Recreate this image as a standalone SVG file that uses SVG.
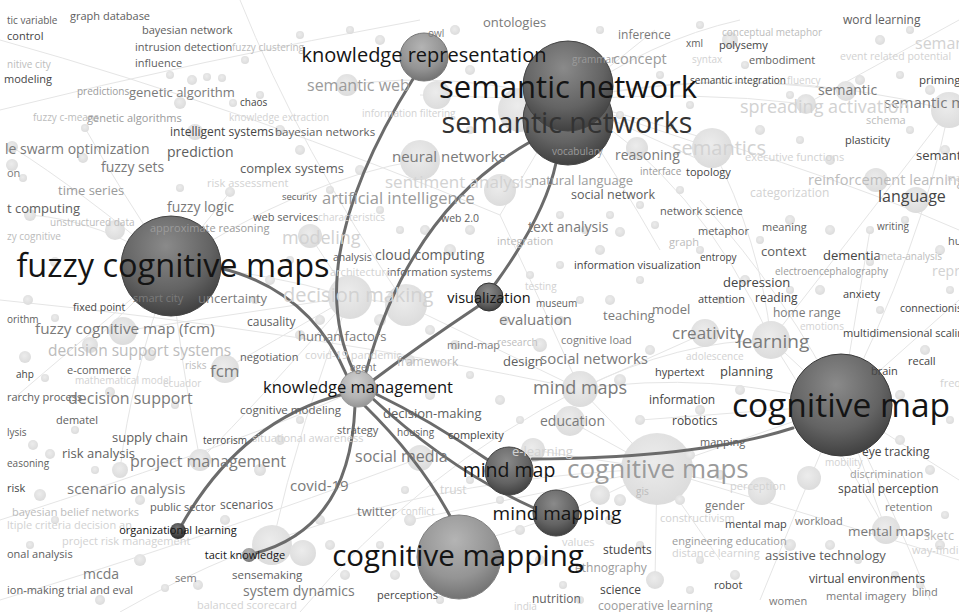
<svg xmlns="http://www.w3.org/2000/svg" width="959" height="612" viewBox="0 0 959 612">
<defs>
<style>
text{font-family:"Open Sans","Liberation Sans",Arial,sans-serif}
.e{fill:none;stroke:#e5e5e5;stroke-width:1}
.b{fill:url(#gBg)}
.link{fill:none;stroke:#6b6b6b;stroke-width:3;stroke-linecap:round}
.hl{fill:#141414;text-anchor:middle}
.c1{fill:#454545}.c2{fill:#5e5e5e}.c3{fill:#7a7a7a}.c4{fill:#9b9b9b}.c5{fill:#bcbcbc}.c6{fill:#d2d2d2}
</style>
<radialGradient id="gBg" cx="45%" cy="40%" r="60%">
<stop offset="0" stop-color="#ececec"/><stop offset="1" stop-color="#dcdcdc"/>
</radialGradient>
<radialGradient id="gDark" cx="45%" cy="30%" r="75%">
<stop offset="0" stop-color="#8a8a8a"/><stop offset="0.6" stop-color="#636363"/><stop offset="1" stop-color="#3a3a3a"/>
</radialGradient>
<radialGradient id="gMid" cx="45%" cy="30%" r="75%">
<stop offset="0" stop-color="#b4b4b4"/><stop offset="0.6" stop-color="#949494"/><stop offset="1" stop-color="#6c6c6c"/>
</radialGradient>
<radialGradient id="gLight" cx="45%" cy="30%" r="75%">
<stop offset="0" stop-color="#cfcfcf"/><stop offset="0.6" stop-color="#b3b3b3"/><stop offset="1" stop-color="#8f8f8f"/>
</radialGradient>
<radialGradient id="gSmall" cx="45%" cy="30%" r="75%">
<stop offset="0" stop-color="#777"/><stop offset="1" stop-color="#262626"/>
</radialGradient>
</defs>
<rect width="959" height="612" fill="#fff"/>

<!-- faint co-occurrence edges -->
<g id="background-edges">
<path class="e" d="M171,266 Q80,190 12,147"/>
<path class="e" d="M171,266 Q120,190 85,128"/>
<path class="e" d="M171,266 L230,192"/>
<path class="e" d="M171,266 Q70,350 12,400"/>
<path class="e" d="M171,266 Q130,380 120,470"/>
<path class="e" d="M171,266 Q260,270 350,297"/>
<path class="e" d="M171,266 Q180,360 200,460"/>
<path class="e" d="M171,266 Q100,220 30,215"/>
<path class="e" d="M171,266 L90,345"/>
<path class="e" d="M171,266 Q300,180 420,160"/>
<path class="e" d="M568,100 L700,160"/>
<path class="e" d="M568,100 Q690,90 806,104"/>
<path class="e" d="M568,100 Q700,70 846,91"/>
<path class="e" d="M568,100 L420,95"/>
<path class="e" d="M568,100 Q450,70 347,85"/>
<path class="e" d="M568,100 L655,30"/>
<path class="e" d="M568,100 Q650,40 740,20"/>
<path class="e" d="M568,100 Q760,60 949,110"/>
<path class="e" d="M568,100 Q620,180 660,250"/>
<path class="e" d="M568,100 L500,215"/>
<path class="e" d="M568,100 Q700,180 771,340"/>
<path class="e" d="M568,100 L712,148"/>
<path class="e" d="M841,405 L771,340"/>
<path class="e" d="M841,405 L657,469"/>
<path class="e" d="M841,405 L886,530"/>
<path class="e" d="M841,405 L959,300"/>
<path class="e" d="M841,405 L959,480"/>
<path class="e" d="M841,405 Q790,300 700,200"/>
<path class="e" d="M841,405 Q800,500 760,600"/>
<path class="e" d="M841,405 Q890,500 930,600"/>
<path class="e" d="M841,405 Q710,370 580,389"/>
<path class="e" d="M841,405 Q920,250 949,110"/>
<path class="e" d="M841,405 L870,230"/>
<path class="e" d="M841,405 L640,420"/>
<path class="e" d="M657,469 L580,389"/>
<path class="e" d="M657,469 L533,450"/>
<path class="e" d="M657,469 L762,491"/>
<path class="e" d="M657,469 L655,580"/>
<path class="e" d="M657,469 L720,560"/>
<path class="e" d="M657,469 L570,421"/>
<path class="e" d="M657,469 Q560,520 480,540"/>
<path class="e" d="M657,469 L410,520"/>
<path class="e" d="M350,297 L123,331"/>
<path class="e" d="M350,297 L225,369"/>
<path class="e" d="M350,297 Q260,400 200,460"/>
<path class="e" d="M350,297 L310,236"/>
<path class="e" d="M350,297 L406,305"/>
<path class="e" d="M350,297 Q300,420 272,545"/>
<path class="e" d="M580,389 L705,333"/>
<path class="e" d="M580,389 L406,305"/>
<path class="e" d="M580,389 Q540,300 500,215"/>
<path class="e" d="M580,389 Q680,340 771,340"/>
<path class="e" d="M771,340 Q760,240 712,148"/>
<path class="e" d="M771,340 Q880,200 949,110"/>
<path class="e" d="M771,340 Q840,450 886,530"/>
<path class="e" d="M0,40 Q250,110 500,215"/>
<path class="e" d="M0,600 Q200,540 420,458"/>
<path class="e" d="M959,560 L657,469"/>
<path class="e" d="M959,20 L806,104"/>
<path class="e" d="M240,0 Q300,150 406,305"/>
<path class="e" d="M0,300 Q300,330 580,389"/>
<path class="e" d="M120,612 Q350,480 657,469"/>
<path class="e" d="M0,520 Q250,440 358,389"/>
<path class="e" d="M959,230 Q800,160 568,100"/>
<path class="e" d="M300,612 Q420,470 580,389"/>
<path class="e" d="M0,110 Q200,60 420,20"/>
</g>

<!-- faint term circles -->
<g id="background-terms">
<circle class="b" cx="657" cy="469" r="36"/><circle class="b" cx="771" cy="340" r="19"/>
<circle class="b" cx="705" cy="333" r="14"/><circle class="b" cx="580" cy="389" r="18"/>
<circle class="b" cx="350" cy="297" r="22"/><circle class="b" cx="406" cy="305" r="21"/>
<circle class="b" cx="310" cy="236" r="12"/><circle class="b" cx="712" cy="148" r="20"/>
<circle class="b" cx="949" cy="110" r="18"/><circle class="b" cx="806" cy="104" r="10"/>
<circle class="b" cx="846" cy="91" r="10"/><circle class="b" cx="876" cy="180" r="12"/>
<circle class="b" cx="916" cy="200" r="13"/><circle class="b" cx="123" cy="331" r="14"/>
<circle class="b" cx="225" cy="369" r="14"/><circle class="b" cx="200" cy="460" r="11"/>
<circle class="b" cx="272" cy="545" r="20"/><circle class="b" cx="303" cy="553" r="13"/>
<circle class="b" cx="420" cy="458" r="13"/><circle class="b" cx="570" cy="421" r="15"/>
<circle class="b" cx="533" cy="450" r="12"/><circle class="b" cx="886" cy="530" r="14"/>
<circle class="b" cx="762" cy="491" r="14"/><circle class="b" cx="809" cy="478" r="12"/>
<circle class="b" cx="420" cy="160" r="20"/><circle class="b" cx="347" cy="85" r="11"/>
<circle class="b" cx="437" cy="95" r="14"/><circle class="b" cx="500" cy="190" r="16"/>
<circle class="b" cx="520" cy="110" r="22"/><circle class="b" cx="637" cy="148" r="11"/>
<circle class="b" cx="730" cy="40" r="8"/><circle class="b" cx="600" cy="495" r="10"/>
<circle class="b" cx="655" cy="580" r="9"/><circle class="b" cx="115" cy="230" r="10"/>
<circle class="b" cx="195" cy="132" r="8"/><circle class="b" cx="90" cy="345" r="8"/>
<circle class="b" cx="120" cy="470" r="8"/><circle class="b" cx="540" cy="345" r="7"/>
<circle class="b" cx="192" cy="80" r="5"/><circle class="b" cx="170" cy="75" r="4"/><circle class="b" cx="207" cy="77" r="4"/>
<circle class="b" cx="222" cy="78" r="4"/><circle class="b" cx="85" cy="128" r="4"/><circle class="b" cx="180" cy="103" r="6"/>
<circle class="b" cx="233" cy="103" r="4"/><circle class="b" cx="12" cy="147" r="6"/><circle class="b" cx="83" cy="158" r="5"/>
<circle class="b" cx="12" cy="165" r="6"/><circle class="b" cx="23" cy="178" r="4"/><circle class="b" cx="180" cy="188" r="4"/>
<circle class="b" cx="230" cy="192" r="5"/><circle class="b" cx="30" cy="215" r="6"/><circle class="b" cx="55" cy="262" r="5"/>
<circle class="b" cx="28" cy="300" r="5"/><circle class="b" cx="55" cy="318" r="4"/><circle class="b" cx="25" cy="357" r="6"/>
<circle class="b" cx="45" cy="378" r="4"/><circle class="b" cx="110" cy="392" r="5"/><circle class="b" cx="150" cy="355" r="6"/>
<circle class="b" cx="175" cy="405" r="4"/><circle class="b" cx="33" cy="445" r="5"/><circle class="b" cx="50" cy="454" r="5"/>
<circle class="b" cx="75" cy="430" r="4"/><circle class="b" cx="95" cy="470" r="4"/><circle class="b" cx="40" cy="495" r="6"/>
<circle class="b" cx="140" cy="500" r="5"/><circle class="b" cx="55" cy="520" r="4"/><circle class="b" cx="30" cy="545" r="4"/>
<circle class="b" cx="140" cy="560" r="6"/><circle class="b" cx="100" cy="600" r="5"/><circle class="b" cx="165" cy="588" r="4"/>
<circle class="b" cx="198" cy="585" r="5"/><circle class="b" cx="225" cy="520" r="5"/><circle class="b" cx="260" cy="470" r="6"/>
<circle class="b" cx="280" cy="440" r="5"/><circle class="b" cx="300" cy="420" r="4"/><circle class="b" cx="320" cy="520" r="5"/>
<circle class="b" cx="330" cy="545" r="5"/><circle class="b" cx="345" cy="575" r="5"/><circle class="b" cx="380" cy="545" r="4"/>
<circle class="b" cx="395" cy="575" r="5"/><circle class="b" cx="405" cy="490" r="4"/><circle class="b" cx="410" cy="520" r="6"/>
<circle class="b" cx="440" cy="600" r="4"/><circle class="b" cx="470" cy="480" r="4"/><circle class="b" cx="500" cy="500" r="4"/>
<circle class="b" cx="520" cy="530" r="5"/><circle class="b" cx="540" cy="560" r="5"/><circle class="b" cx="563" cy="585" r="4"/>
<circle class="b" cx="580" cy="600" r="4"/><circle class="b" cx="610" cy="520" r="5"/><circle class="b" cx="620" cy="500" r="6"/>
<circle class="b" cx="640" cy="545" r="4"/><circle class="b" cx="680" cy="500" r="5"/><circle class="b" cx="700" cy="560" r="4"/>
<circle class="b" cx="690" cy="590" r="4"/><circle class="b" cx="735" cy="575" r="5"/><circle class="b" cx="790" cy="545" r="6"/>
<circle class="b" cx="830" cy="545" r="5"/><circle class="b" cx="858" cy="560" r="4"/><circle class="b" cx="895" cy="575" r="4"/>
<circle class="b" cx="940" cy="545" r="5"/><circle class="b" cx="920" cy="585" r="4"/><circle class="b" cx="945" cy="515" r="4"/>
<circle class="b" cx="930" cy="470" r="5"/><circle class="b" cx="900" cy="440" r="5"/><circle class="b" cx="950" cy="420" r="4"/>
<circle class="b" cx="900" cy="395" r="5"/><circle class="b" cx="925" cy="350" r="5"/><circle class="b" cx="950" cy="290" r="4"/>
<circle class="b" cx="880" cy="310" r="4"/><circle class="b" cx="940" cy="250" r="5"/><circle class="b" cx="905" cy="220" r="4"/>
<circle class="b" cx="870" cy="230" r="4"/><circle class="b" cx="830" cy="230" r="5"/><circle class="b" cx="790" cy="220" r="5"/>
<circle class="b" cx="760" cy="240" r="4"/><circle class="b" cx="745" cy="280" r="5"/><circle class="b" cx="790" cy="290" r="4"/>
<circle class="b" cx="820" cy="290" r="5"/><circle class="b" cx="870" cy="262" r="4"/><circle class="b" cx="720" cy="300" r="4"/>
<circle class="b" cx="740" cy="390" r="5"/><circle class="b" cx="700" cy="410" r="5"/><circle class="b" cx="690" cy="455" r="5"/>
<circle class="b" cx="720" cy="475" r="5"/><circle class="b" cx="640" cy="420" r="5"/><circle class="b" cx="620" cy="380" r="6"/>
<circle class="b" cx="650" cy="350" r="5"/><circle class="b" cx="610" cy="300" r="5"/><circle class="b" cx="640" cy="280" r="4"/>
<circle class="b" cx="600" cy="250" r="5"/><circle class="b" cx="560" cy="265" r="4"/><circle class="b" cx="530" cy="275" r="4"/>
<circle class="b" cx="620" cy="232" r="5"/><circle class="b" cx="655" cy="225" r="4"/><circle class="b" cx="700" cy="250" r="4"/>
<circle class="b" cx="680" cy="190" r="4"/><circle class="b" cx="640" cy="205" r="4"/><circle class="b" cx="610" cy="215" r="4"/>
<circle class="b" cx="585" cy="230" r="4"/><circle class="b" cx="560" cy="215" r="4"/><circle class="b" cx="470" cy="230" r="5"/>
<circle class="b" cx="450" cy="250" r="6"/><circle class="b" cx="425" cy="230" r="5"/><circle class="b" cx="400" cy="230" r="4"/>
<circle class="b" cx="380" cy="210" r="4"/><circle class="b" cx="360" cy="170" r="5"/><circle class="b" cx="330" cy="190" r="4"/>
<circle class="b" cx="300" cy="150" r="5"/><circle class="b" cx="280" cy="130" r="5"/><circle class="b" cx="260" cy="95" r="4"/>
<circle class="b" cx="245" cy="60" r="4"/><circle class="b" cx="300" cy="35" r="4"/><circle class="b" cx="350" cy="30" r="4"/>
<circle class="b" cx="380" cy="40" r="5"/><circle class="b" cx="455" cy="30" r="5"/><circle class="b" cx="470" cy="70" r="5"/>
<circle class="b" cx="590" cy="60" r="5"/><circle class="b" cx="600" cy="30" r="4"/><circle class="b" cx="660" cy="75" r="4"/>
<circle class="b" cx="700" cy="25" r="4"/><circle class="b" cx="745" cy="65" r="4"/><circle class="b" cx="790" cy="95" r="4"/>
<circle class="b" cx="760" cy="130" r="5"/><circle class="b" cx="800" cy="140" r="4"/><circle class="b" cx="830" cy="160" r="5"/>
<circle class="b" cx="860" cy="80" r="5"/><circle class="b" cx="900" cy="75" r="4"/><circle class="b" cx="930" cy="90" r="5"/>
<circle class="b" cx="945" cy="150" r="5"/><circle class="b" cx="910" cy="130" r="4"/><circle class="b" cx="880" cy="40" r="5"/>
<circle class="b" cx="910" cy="30" r="4"/><circle class="b" cx="690" cy="105" r="4"/><circle class="b" cx="670" cy="125" r="4"/>
<circle class="b" cx="620" cy="115" r="4"/><circle class="b" cx="470" cy="130" r="4"/><circle class="b" cx="290" cy="260" r="4"/>
<circle class="b" cx="270" cy="280" r="5"/><circle class="b" cx="255" cy="300" r="4"/><circle class="b" cx="300" cy="335" r="5"/>
<circle class="b" cx="320" cy="320" r="5"/><circle class="b" cx="380" cy="320" r="6"/><circle class="b" cx="430" cy="330" r="5"/>
<circle class="b" cx="455" cy="345" r="5"/><circle class="b" cx="470" cy="375" r="4"/><circle class="b" cx="430" cy="395" r="5"/>
<circle class="b" cx="500" cy="400" r="5"/><circle class="b" cx="520" cy="420" r="4"/><circle class="b" cx="560" cy="320" r="4"/>
<circle class="b" cx="580" cy="300" r="4"/><circle class="b" cx="505" cy="320" r="4"/><circle class="b" cx="410" cy="360" r="5"/>
</g>

<!-- highlighted links of knowledge management -->
<g id="connectors">
<path class="link" d="M413,79 Q300,260 354,372"/>
<path class="link" d="M530,142 Q410,210 366,372"/>
<path class="link" d="M556,163 Q545,215 495,284"/>
<path class="link" d="M480,305 Q420,345 372,381"/>
<path class="link" d="M220,268 Q310,290 347,376"/>
<path class="link" d="M344,394 Q240,420 180,528"/>
<path class="link" d="M355,406 Q350,530 252,554"/>
<path class="link" d="M364,405 Q420,460 450,516"/>
<path class="link" d="M372,398 Q450,470 534,508"/>
<path class="link" d="M374,393 Q430,420 488,460"/>
<path class="link" d="M793,428 Q700,458 532,459"/>
</g>

<!-- highlighted nodes -->
<g id="node-knowledge-representation"><circle cx="424" cy="57" r="24" fill="url(#gMid)" stroke="#777"/></g>
<g id="node-semantic-networks"><circle cx="568" cy="120" r="45" fill="url(#gDark)" stroke="#444"/></g>
<g id="node-semantic-network"><circle cx="568" cy="86" r="45" fill="url(#gDark)" stroke="#444"/></g>
<g id="node-fuzzy-cognitive-maps"><circle cx="171" cy="266" r="50" fill="url(#gDark)" stroke="#444"/></g>
<g id="node-cognitive-map"><circle cx="841" cy="405" r="51" fill="url(#gDark)" stroke="#3a3a3a"/></g>
<g id="node-visualization"><circle cx="489" cy="297" r="14" fill="url(#gDark)" stroke="#333"/></g>
<g id="node-knowledge-management"><circle cx="358" cy="389" r="18" fill="url(#gLight)" stroke="#999"/></g>
<g id="node-mind-map"><circle cx="509" cy="471" r="24" fill="url(#gDark)" stroke="#444"/></g>
<g id="node-mind-mapping"><circle cx="556" cy="513" r="23" fill="url(#gDark)" stroke="#444"/></g>
<g id="node-cognitive-mapping"><circle cx="459" cy="557" r="42" fill="url(#gMid)" stroke="#808080"/></g>
<g id="node-organizational-learning"><circle cx="178" cy="531" r="8" fill="url(#gSmall)"/></g>
<g id="node-tacit-knowledge"><circle cx="249" cy="555" r="7" fill="url(#gMid)"/></g>

<!-- term labels -->
<g id="term-labels">
<text x="7" y="24" font-size="10" class="c2">tic variable</text>
<text x="70" y="20" font-size="11" class="c2">graph database</text>
<text x="7" y="40" font-size="11" class="c1">control</text>
<text x="142" y="34" font-size="11" class="c2">bayesian network</text>
<text x="135" y="51" font-size="11" class="c2">intrusion detection</text>
<text x="232" y="51" font-size="10" class="c5">fuzzy clustering</text>
<text x="7" y="68" font-size="10" class="c5">nitive city</text>
<text x="135" y="67" font-size="11" class="c2">influence</text>
<text x="4" y="83" font-size="11" class="c1">modeling</text>
<text x="77" y="95" font-size="10" class="c4">predictions</text>
<text x="129" y="97" font-size="13" class="c3">genetic algorithm</text>
<text x="33" y="121" font-size="10" class="c5">fuzzy c-means</text>
<text x="87" y="122" font-size="11" class="c4">genetic algorithms</text>
<text x="170" y="136" font-size="12" class="c1">intelligent systems</text>
<text x="275" y="136" font-size="11.5" class="c2">bayesian networks</text>
<text x="240" y="106" font-size="10" class="c1">chaos</text>
<text x="229" y="121" font-size="10" class="c6">knowledge extraction</text>
<text x="5" y="154" font-size="14" class="c3">le swarm optimization</text>
<text x="167" y="157" font-size="14" class="c2">prediction</text>
<text x="101" y="172" font-size="14" class="c3">fuzzy sets</text>
<text x="7" y="177" font-size="11" class="c3">on</text>
<text x="58" y="195" font-size="13" class="c4">time series</text>
<text x="7" y="213" font-size="13" class="c2">t computing</text>
<text x="167" y="212" font-size="14" class="c3">fuzzy logic</text>
<text x="50" y="226" font-size="10" class="c5">unstructured data</text>
<text x="7" y="240" font-size="10" class="c5">zy cognitive</text>
<text x="307" y="91" font-size="16" class="c4">semantic web</text>
<text x="362" y="117" font-size="10" class="c6">information filtering</text>
<text x="428" y="37" font-size="10" class="c3">owl</text>
<text x="240" y="173" font-size="13" class="c2">complex systems</text>
<text x="207" y="187" font-size="11" class="c6">risk assessment</text>
<text x="282" y="200" font-size="9.5" class="c2">security</text>
<text x="322" y="204" font-size="16.5" class="c4">artificial intelligence</text>
<text x="392" y="162" font-size="15" class="c3">neural networks</text>
<text x="385" y="188" font-size="17" class="c6">sentiment analysis</text>
<text x="483" y="27" font-size="13" class="c3">ontologies</text>
<text x="618" y="39" font-size="12" class="c3">inference</text>
<text x="686" y="47" font-size="10" class="c2">xml</text>
<text x="572" y="63" font-size="10" class="c4">grammar</text>
<text x="613" y="64" font-size="14.5" class="c4">concept</text>
<text x="692" y="63" font-size="10" class="c6">syntax</text>
<text x="722" y="36" font-size="10" class="c5">conceptual metaphor</text>
<text x="719" y="49" font-size="11" class="c1">polysemy</text>
<text x="749" y="64" font-size="11" class="c2">embodiment</text>
<text x="690" y="84" font-size="10" class="c1">semantic integration</text>
<text x="787" y="84" font-size="10" class="c6">fluency</text>
<text x="843" y="24" font-size="12" class="c2">word learning</text>
<text x="915" y="49" font-size="16" class="c6">seman</text>
<text x="840" y="60" font-size="10.5" class="c6">event related potential</text>
<text x="818" y="95" font-size="14" class="c3">semantic</text>
<text x="919" y="84" font-size="11.5" class="c1">priming</text>
<text x="884" y="108" font-size="15" class="c3">semantic m</text>
<text x="740" y="113" font-size="18" class="c6">spreading activation</text>
<text x="866" y="124" font-size="11" class="c5">schema</text>
<text x="845" y="144" font-size="11" class="c1">plasticity</text>
<text x="916" y="160" font-size="13" class="c1">semanti</text>
<text x="672" y="155" font-size="20" class="c6">semantics</text>
<text x="745" y="161" font-size="11" class="c6">executive functions</text>
<text x="615" y="160" font-size="14" class="c3">reasoning</text>
<text x="552" y="155" font-size="10" class="c4">vocabulary</text>
<text x="640" y="175" font-size="10" class="c4">interface</text>
<text x="686" y="176" font-size="11" class="c1">topology</text>
<text x="531" y="185" font-size="13" class="c4">natural language</text>
<text x="571" y="199" font-size="12.5" class="c2">social network</text>
<text x="808" y="185" font-size="14.6" class="c5">reinforcement learning</text>
<text x="945" y="181" font-size="9" class="c6">imag</text>
<text x="750" y="197" font-size="12" class="c6">categorization</text>
<text x="878" y="202" font-size="16" class="c1">language</text>
<text x="660" y="215" font-size="11" class="c2">network science</text>
<text x="698" y="235" font-size="11" class="c2">metaphor</text>
<text x="762" y="231" font-size="11" class="c2">meaning</text>
<text x="877" y="230" font-size="10" class="c2">writing</text>
<text x="948" y="245" font-size="11" class="c2">hu</text>
<text x="669" y="246" font-size="11" class="c5">graph</text>
<text x="700" y="261" font-size="10" class="c1">entropy</text>
<text x="761" y="256" font-size="13" class="c2">context</text>
<text x="823" y="260" font-size="13" class="c1">dementia</text>
<text x="878" y="260" font-size="10" class="c5">meta-analysis</text>
<text x="932" y="276" font-size="14" class="c6">repr</text>
<text x="775" y="275" font-size="10" class="c4">electroencephalography</text>
<text x="723" y="287" font-size="13" class="c1">depression</text>
<text x="698" y="303" font-size="11" class="c1">attention</text>
<text x="755" y="302" font-size="12" class="c1">reading</text>
<text x="843" y="298" font-size="11" class="c1">anxiety</text>
<text x="900" y="312" font-size="10.5" class="c1">connectionis</text>
<text x="773" y="317" font-size="12" class="c3">home range</text>
<text x="800" y="330" font-size="10" class="c6">emotions</text>
<text x="843" y="337" font-size="11" class="c1">multidimensional scalin</text>
<text x="672" y="339" font-size="17" class="c3">creativity</text>
<text x="737" y="348" font-size="19" class="c3">learning</text>
<text x="686" y="360" font-size="10" class="c6">adolescence</text>
<text x="720" y="376" font-size="13" class="c1">planning</text>
<text x="908" y="365" font-size="11" class="c1">recall</text>
<text x="871" y="375" font-size="11" class="c1">brain</text>
<text x="940" y="387" font-size="11" class="c6">freq</text>
<text x="655" y="376" font-size="11" class="c1">hypertext</text>
<text x="649" y="404" font-size="12" class="c1">information</text>
<text x="533" y="394" font-size="18" class="c3">mind maps</text>
<text x="540" y="426" font-size="14" class="c3">education</text>
<text x="672" y="425" font-size="12" class="c1">robotics</text>
<text x="700" y="446" font-size="11" class="c2">mapping</text>
<text x="567" y="478" font-size="26" class="c4">cognitive maps</text>
<text x="636" y="495" font-size="10" class="c5">gis</text>
<text x="862" y="456" font-size="12" class="c1">eye tracking</text>
<text x="825" y="466" font-size="10" class="c6">mobility</text>
<text x="730" y="490" font-size="11" class="c6">perception</text>
<text x="850" y="478" font-size="11" class="c4">discrimination</text>
<text x="838" y="493" font-size="12" class="c1">spatial perception</text>
<text x="885" y="511" font-size="11" class="c3">retention</text>
<text x="705" y="510" font-size="12" class="c3">gender</text>
<text x="660" y="522" font-size="11" class="c6">constructivism</text>
<text x="725" y="528" font-size="11" class="c1">mental map</text>
<text x="795" y="525" font-size="11" class="c3">workload</text>
<text x="848" y="536" font-size="13.5" class="c3">mental maps</text>
<text x="924" y="540" font-size="12.5" class="c5">sketc</text>
<text x="912" y="554" font-size="11" class="c6">way-findi</text>
<text x="672" y="545" font-size="11" class="c4">engineering education</text>
<text x="672" y="557" font-size="11" class="c6">distance learning</text>
<text x="765" y="560" font-size="13" class="c2">assistive technology</text>
<text x="809" y="583" font-size="12" class="c1">virtual environments</text>
<text x="714" y="589" font-size="11" class="c1">robot</text>
<text x="769" y="605" font-size="11" class="c3">women</text>
<text x="826" y="600" font-size="11" class="c3">mental imagery</text>
<text x="912" y="596" font-size="11" class="c3">blind</text>
<text x="603" y="554" font-size="12" class="c1">students</text>
<text x="562" y="546" font-size="11" class="c6">values</text>
<text x="575" y="572" font-size="12" class="c4">ethnography</text>
<text x="600" y="594" font-size="12" class="c1">science</text>
<text x="532" y="603" font-size="12" class="c2">nutrition</text>
<text x="514" y="610" font-size="10" class="c6">india</text>
<text x="598" y="610" font-size="12" class="c4">cooperative learning</text>
<text x="377" y="599" font-size="11" class="c1">perceptions</text>
<text x="243" y="596" font-size="14" class="c3">system dynamics</text>
<text x="197" y="609" font-size="11" class="c6">balanced scorecard</text>
<text x="232" y="579" font-size="11.5" class="c2">sensemaking</text>
<text x="175" y="582" font-size="11" class="c3">sem</text>
<text x="83" y="579" font-size="14" class="c3">mcda</text>
<text x="7" y="594" font-size="11" class="c2">ion-making trial and eval</text>
<text x="7" y="558" font-size="11" class="c2">onal analysis</text>
<text x="62" y="545" font-size="11" class="c6">project risk management</text>
<text x="7" y="529" font-size="11" class="c6">ltiple criteria decision an</text>
<text x="12" y="516" font-size="11" class="c5">bayesian belief networks</text>
<text x="150" y="511" font-size="11" class="c2">public sector</text>
<text x="220" y="509" font-size="12" class="c2">scenarios</text>
<text x="357" y="516" font-size="13" class="c3">twitter</text>
<text x="401" y="515" font-size="10" class="c6">conflict</text>
<text x="290" y="491" font-size="15" class="c3">covid-19</text>
<text x="67" y="494" font-size="15" class="c3">scenario analysis</text>
<text x="7" y="492" font-size="11" class="c1">risk</text>
<text x="130" y="467" font-size="16" class="c3">project management</text>
<text x="7" y="467" font-size="10" class="c2">easoning</text>
<text x="62" y="458" font-size="13" class="c2">risk analysis</text>
<text x="112" y="442" font-size="13" class="c2">supply chain</text>
<text x="203" y="444" font-size="10" class="c1">terrorism</text>
<text x="7" y="436" font-size="10" class="c2">lysis</text>
<text x="56" y="424" font-size="11" class="c2">dematel</text>
<text x="240" y="414" font-size="11.5" class="c2">cognitive modeling</text>
<text x="252" y="442" font-size="11" class="c6">situational awareness</text>
<text x="337" y="434" font-size="11" class="c2">strategy</text>
<text x="397" y="436" font-size="10" class="c2">housing</text>
<text x="448" y="439" font-size="11" class="c1">complexity</text>
<text x="383" y="418" font-size="13" class="c2">decision-making</text>
<text x="355" y="462" font-size="16" class="c3">social media</text>
<text x="440" y="494" font-size="12" class="c6">trust</text>
<text x="512" y="456" font-size="13" class="c6">e-learning</text>
<text x="16" y="378" font-size="10" class="c1">ahp</text>
<text x="67" y="374" font-size="11" class="c2">e-commerce</text>
<text x="185" y="369" font-size="10" class="c5">risks</text>
<text x="210" y="377" font-size="17" class="c3">fcm</text>
<text x="163" y="387" font-size="10" class="c6">ecuador</text>
<text x="75" y="384" font-size="10" class="c6">mathematical model</text>
<text x="7" y="401" font-size="11" class="c2">rarchy process</text>
<text x="68" y="404" font-size="16" class="c3">decision support</text>
<text x="48" y="356" font-size="15.5" class="c5">decision support systems</text>
<text x="35" y="334" font-size="15.3" class="c3">fuzzy cognitive map (fcm)</text>
<text x="73" y="311" font-size="10.5" class="c1">fixed point</text>
<text x="7" y="323" font-size="10" class="c2">orithm</text>
<text x="133" y="302" font-size="11" class="c3">smart city</text>
<text x="198" y="303" font-size="13" class="c3">uncertainty</text>
<text x="283" y="302" font-size="20" class="c6">decision making</text>
<text x="247" y="326" font-size="12" class="c2">causality</text>
<text x="298" y="341" font-size="13" class="c3">human factors</text>
<text x="240" y="361" font-size="11" class="c2">negotiation</text>
<text x="305" y="359" font-size="11" class="c6">covid-19 pandemic</text>
<text x="350" y="371" font-size="10" class="c3">agent</text>
<text x="397" y="366" font-size="12" class="c5">framework</text>
<text x="447" y="349" font-size="11" class="c3">mind-map</text>
<text x="497" y="346" font-size="10" class="c5">research</text>
<text x="503" y="366" font-size="13" class="c2">design</text>
<text x="540" y="364" font-size="15" class="c3">social networks</text>
<text x="499" y="325" font-size="15" class="c3">evaluation</text>
<text x="561" y="344" font-size="11" class="c3">cognitive load</text>
<text x="603" y="320" font-size="13" class="c3">teaching</text>
<text x="652" y="314" font-size="13" class="c3">model</text>
<text x="536" y="307" font-size="10" class="c2">museum</text>
<text x="525" y="290" font-size="10" class="c6">testing</text>
<text x="574" y="269" font-size="11" class="c1">information visualization</text>
<text x="497" y="245" font-size="11" class="c5">integration</text>
<text x="528" y="232" font-size="14" class="c3">text analysis</text>
<text x="375" y="260" font-size="14" class="c2">cloud computing</text>
<text x="387" y="276" font-size="11" class="c2">information systems</text>
<text x="330" y="276" font-size="11" class="c6">architecture</text>
<text x="333" y="261" font-size="10.5" class="c2">analysis</text>
<text x="282" y="244" font-size="18" class="c6">modeling</text>
<text x="253" y="221" font-size="11" class="c2">web services</text>
<text x="318" y="221" font-size="10" class="c6">characteristics</text>
<text x="441" y="222" font-size="10.5" class="c2">web 2.0</text>
<text x="150" y="232" font-size="11" class="c4">approximate reasoning</text>
</g>

<!-- labels of the highlighted nodes -->
<g id="node-labels">
<text class="hl" x="424" y="62" font-size="20">knowledge representation</text>
<text class="hl" x="568" y="98" font-size="31">semantic network</text>
<text class="hl" x="567" y="133" font-size="28.5" style="fill:#333">semantic networks</text>
<text class="hl" x="173" y="277" font-size="32.5">fuzzy cognitive maps</text>
<text class="hl" x="841" y="417" font-size="33.5">cognitive map</text>
<text class="hl" x="489" y="303" font-size="14.5">visualization</text>
<text class="hl" x="358" y="393" font-size="16.5">knowledge management</text>
<text class="hl" x="509" y="477" font-size="19.5">mind map</text>
<text class="hl" x="557" y="520" font-size="19">mind mapping</text>
<text class="hl" x="458" y="566" font-size="29.5">cognitive mapping</text>
<text class="hl" x="178" y="534" font-size="11">organizational learning</text>
<text class="hl" x="245" y="559" font-size="11">tacit knowledge</text>
</g>
</svg>
